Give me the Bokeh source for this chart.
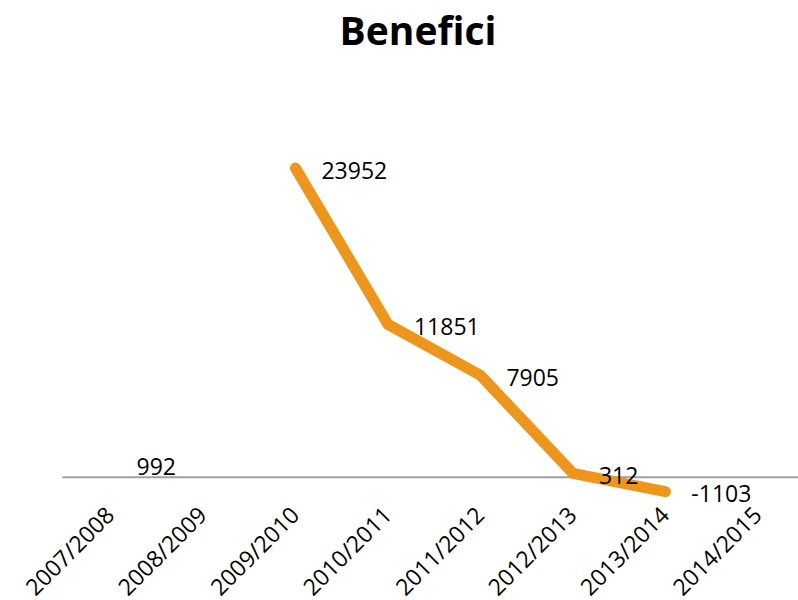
import math
import numpy as np
from bokeh.plotting import figure
from bokeh.models import ColumnDataSource
from bokeh.core.properties import value
from bokeh.embed import file_html
from bokeh.resources import INLINE

# ---- data ----
title_text = "Benefici"
categories = ["2007/2008", "2008/2009", "2009/2010", "2010/2011",
              "2011/2012", "2012/2013", "2013/2014", "2014/2015"]
profits = [992, None, 23952, 11851, 7905, 312, -1103, None]

xs = list(range(len(categories)))
ys = [np.nan if v is None else float(v) for v in profits]

line_src = ColumnDataSource(dict(x=xs, y=ys))
lab_x = [x for x, v in zip(xs, profits) if v is not None]
lab_y = [v for v in profits if v is not None]
lab_t = [str(v) for v in profits if v is not None]
lab_src = ColumnDataSource(dict(x=lab_x, y=lab_y, t=lab_t))
cat_src = ColumnDataSource(dict(x=xs, y=[0] * len(xs), t=categories))

p = figure(width=798, height=600,
           x_range=(-1.19, 7.44), y_range=(-9535, 32670),
           output_backend="svg", toolbar_location=None,
           x_axis_location=None, y_axis_location=None,
           min_border_left=0, min_border_right=0,
           min_border_top=0, min_border_bottom=0)
p.outline_line_color = None
p.xgrid.visible = False
p.ygrid.visible = False
p.background_fill_color = "white"
p.border_fill_color = "white"

p.title.text = title_text
p.title.text_font = "Open Sans"
p.title.text_font_size = "39px"
p.title.text_font_style = "bold"
p.title.text_color = "#000000"
p.title.align = "left"
p.title.offset = 339
p.title.standoff = 0

# horizontal category axis line at zero
p.ray(x=[-0.52], y=[0], length=0, angle=0, line_color="#A0A0A0", line_width=2)

# profit line
p.line("x", "y", source=line_src, line_color="#ED961B", line_width=11,
       line_cap="round", line_join="round")

# data labels
p.text("x", "y", text="t", source=lab_src, x_offset=26, y_offset=2,
       text_align="left", text_baseline="middle",
       text_font=value("Open Sans"), text_font_size="23px", text_color="#000000")

# rotated category labels
p.text("x", "y", text="t", source=cat_src, angle=math.pi / 4,
       x_offset=-1, y_offset=33, text_align="right", text_baseline="middle",
       text_font=value("Open Sans"), text_font_size="23px", text_color="#000000")

open("out.html", "w").write(file_html(p, INLINE))
